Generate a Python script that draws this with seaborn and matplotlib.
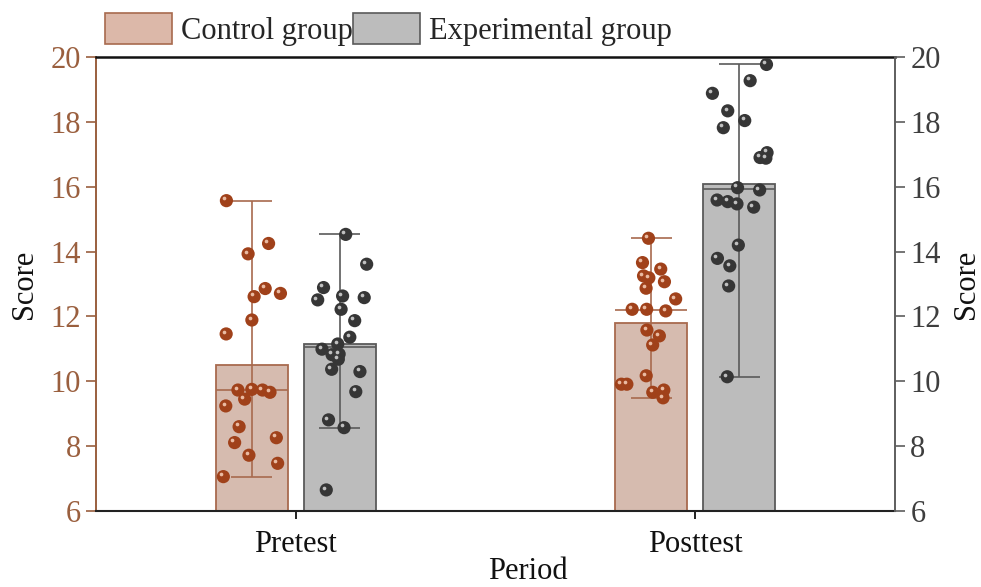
import numpy as np
import pandas as pd
import matplotlib
matplotlib.use("Agg")
import matplotlib.pyplot as plt
import matplotlib.transforms as mtransforms
from matplotlib.patches import Patch
import seaborn as sns

# ---------------- data ----------------
periods = ["Pretest", "Posttest"]
groups = ["Control group", "Experimental group"]

control_pretest = [15.57, 14.25, 13.93, 12.86, 12.71, 12.61, 11.89, 11.46, 9.73, 9.75,
                   9.73, 9.66, 9.45, 9.24, 8.60, 8.26, 8.11, 7.72, 7.47, 7.06]
experimental_pretest = [14.53, 13.61, 12.89, 12.63, 12.58, 12.51, 12.22, 11.87, 11.36, 11.15,
                        10.99, 10.84, 10.82, 10.68, 10.37, 10.30, 9.68, 8.81, 8.57, 6.65]
control_posttest = [14.41, 13.66, 13.46, 13.25, 13.19, 13.07, 12.87, 12.54, 12.22, 12.17,
                    12.22, 11.58, 11.40, 11.12, 10.17, 9.91, 9.91, 9.73, 9.66, 9.49]
experimental_posttest = [19.77, 19.27, 18.88, 18.34, 18.04, 17.82, 17.05, 16.88, 16.90, 15.97,
                         15.90, 15.59, 15.54, 15.47, 15.37, 14.20, 13.79, 13.56, 12.94, 10.14]

y_ticks = [6, 8, 10, 12, 14, 16, 18, 20]

# ---------------- styling ----------------
bar_fill = {"Control group": "#dcb8a9", "Experimental group": "#bcbcbc"}
bar_edge = {"Control group": "#a86a4e", "Experimental group": "#5a5a5a"}
point_col = {"Control group": "#a0411a", "Experimental group": "#363636"}
shine_col = {"Control group": "#f3c9b2", "Experimental group": "#d0d0d0"}
brown = "#9a5f3e"
gray = "#5e5e5e"

records = []
for per, grp, vals in [("Pretest", "Control group", control_pretest),
                       ("Pretest", "Experimental group", experimental_pretest),
                       ("Posttest", "Control group", control_posttest),
                       ("Posttest", "Experimental group", experimental_posttest)]:
    for v in vals:
        records.append({"Period": per, "Group": grp, "Score": v})
df = pd.DataFrame(records)

sns.set_theme(style="white")
plt.rcParams["font.family"] = ["Liberation Serif", "DejaVu Serif"]
FS = 22

fig = plt.figure(figsize=(9.81, 5.87), dpi=100)
ax = fig.add_axes([96 / 981, 1 - 511 / 587, (895 - 96) / 981, (511 - 57) / 587])

sns.barplot(data=df, x="Period", y="Score", hue="Group", order=periods, hue_order=groups,
            palette=bar_fill, errorbar=None, width=0.44, gap=0.18, linewidth=1.3,
            legend=False, ax=ax, zorder=1)

# bar centres from the library's patches
centers = {}
for p in ax.patches:
    if p.get_width() <= 0:
        continue
    cx = p.get_x() + p.get_width() / 2
    cat = int(round(cx))
    grp = groups[0] if cx < cat else groups[1]
    p.set_edgecolor(bar_edge[grp])
    centers[(periods[cat], grp)] = (cx, p.get_width())

np.random.seed(7)
sns.stripplot(data=df, x="Period", y="Score", hue="Group", order=periods, hue_order=groups,
              palette=point_col, dodge=True, jitter=0.15, size=9.5, linewidth=0,
              legend=False, ax=ax, zorder=4)

# move the dodged strips onto the bar centres, add a glossy highlight
shine_tr = mtransforms.offset_copy(ax.transData, fig=fig, x=-1.6, y=1.6, units="points")
for coll in list(ax.collections):
    offs = coll.get_offsets()
    if len(offs) == 0:
        continue
    mx = offs[:, 0].mean()
    cat = int(round(mx))
    grp = groups[0] if mx < cat else groups[1]
    slot = cat + (-0.2 if grp == groups[0] else 0.2)
    cx = centers[(periods[cat], grp)][0]
    offs = np.column_stack([offs[:, 0] - slot + cx, offs[:, 1]])
    coll.set_offsets(offs)
    ax.scatter(offs[:, 0], offs[:, 1], s=7, color=shine_col[grp], linewidths=0,
               transform=shine_tr, zorder=5, alpha=0.9)

# whiskers (1.5 IQR), caps and median line
for (per, grp), (cx, w) in centers.items():
    v = df.loc[(df.Period == per) & (df.Group == grp), "Score"].to_numpy()
    q1, q3 = np.percentile(v, [25, 75], method="weibull")
    iqr = q3 - q1
    lo = v[v >= q1 - 1.5 * iqr].min()
    hi = v[v <= q3 + 1.5 * iqr].max()
    med = np.median(v)
    c = bar_edge[grp]
    cw = w * 0.57
    ax.vlines(cx, lo, hi, color=c, lw=1.2, zorder=3)
    ax.hlines([lo, hi], cx - cw / 2, cx + cw / 2, color=c, lw=1.2, zorder=3)
    ax.hlines(med, cx - w / 2, cx + w / 2, color=c, lw=1.2, zorder=3)

ax.set_xlim(-0.5, 1.5)
ax.set_ylim(6, 20)
ax.set_yticks(y_ticks)
ax.set_yticklabels([str(t) for t in y_ticks])
ax.tick_params(axis="y", which="both", left=True, direction="out", length=7, width=1.2,
               color=brown, labelcolor=brown, labelsize=FS, pad=4)
ax.tick_params(axis="x", bottom=True, direction="out", length=6, width=1.4,
               color="#222222", labelsize=FS, labelcolor="#111111", pad=8)
ax.set_xlabel("Period", fontsize=FS, color="#111111")
ax.xaxis.set_label_coords(0.541, -0.101)
ax.set_ylabel("Score", fontsize=FS, color="#111111", labelpad=8)

ax.spines["left"].set_color(brown)
ax.spines["left"].set_linewidth(1.4)
ax.spines["top"].set_color("#111111")
ax.spines["top"].set_linewidth(1.8)
ax.spines["bottom"].set_color("#222222")
ax.spines["bottom"].set_linewidth(1.5)
ax.spines["right"].set_visible(False)

ax2 = ax.twinx()
ax2.set_ylim(6, 20)
ax2.set_yticks(y_ticks)
ax2.set_yticklabels([str(t) for t in y_ticks])
ax2.tick_params(axis="y", right=True, direction="out", length=7, width=1.2,
                color=gray, labelcolor="#3e3e3e", labelsize=FS, pad=4)
ax2.set_ylabel("Score", fontsize=FS, color="#111111", labelpad=8)
for s in ["left", "top", "bottom"]:
    ax2.spines[s].set_visible(False)
ax2.spines["right"].set_color(gray)
ax2.spines["right"].set_linewidth(1.4)
ax2.grid(False)

handles = [Patch(facecolor=bar_fill[g], edgecolor=bar_edge[g], linewidth=1.2, label=g)
           for g in groups]
ax.legend(handles=handles, loc="lower left", bbox_to_anchor=(0.011, 1.025), ncol=2,
          frameon=False, fontsize=FS, handlelength=2.2, handleheight=1.2,
          columnspacing=0.0, handletextpad=0.3, borderaxespad=0, borderpad=0)

fig.savefig("out.png", dpi=100)
